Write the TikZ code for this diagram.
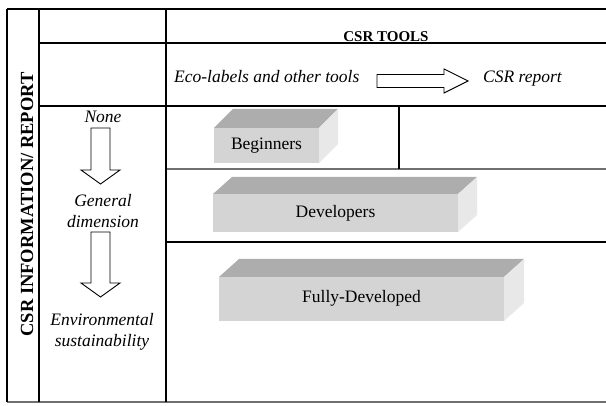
\documentclass[tikz,border=0pt]{standalone}
\usepackage{fontspec}
\setmainfont{Liberation Serif}
\usepackage{tikz}
\usetikzlibrary{shapes}
\definecolor{frontgray}{HTML}{D4D4D4}
\definecolor{topgray}{HTML}{ADADAD}
\definecolor{sidegray}{HTML}{E8E8E8}
\definecolor{linegray}{HTML}{707070}
\tikzstyle{txt}=[font=\fontsize{17.5}{20.5}\selectfont, inner sep=0mm, align=center]
\tikzstyle{itxt}=[font=\fontsize{17.5}{20.5}\selectfont\itshape, inner sep=0mm, align=center]
\tikzstyle{head}=[font=\fontsize{15}{18}\selectfont\bfseries, inner sep=0mm]
\tikzstyle{side}=[font=\fontsize{18.5}{22}\selectfont\bfseries, inner sep=0mm, rotate=90]
\tikzstyle{grid}=[draw=black, line width=1.2]
\tikzstyle{softgrid}=[draw=linegray, line width=1.2]
\tikzstyle{hollow}=[draw=black, fill=white, line width=0.9, line join=miter]
\tikzstyle{front}=[fill=frontgray, inner sep=0mm, outer sep=0mm, font=\fontsize{17.5}{20.5}\selectfont]
\tikzstyle{topface}=[fill=topgray]
\tikzstyle{sideface}=[fill=sidegray]
\tikzset{every picture/.style={
    x=1pt, y=-1pt
  }
}

\begin{document}
\begin{tikzpicture}
      \useasboundingbox (0,0) rectangle (606,406);
      % table
      \draw[grid] (7,9) -- (606,9);
      \draw[grid] (39,43) -- (606,43);
      \draw[grid] (39,106) -- (606,106);
      \draw[softgrid] (166,169) -- (606,169);
      \draw[grid] (166,242) -- (606,242);
      \draw[softgrid] (7,402) -- (606,402);
      \draw[grid] (7,9) -- (7,402);
      \draw[grid] (39,9) -- (39,402);
      \draw[grid] (166,9) -- (166,402);
      \draw[grid] (399,106) -- (399,169);

      \node[side] at (27,204.5) (info) {CSR INFORMATION/ REPORT};
      \node[head] at (386,37) (tools) {CSR TOOLS};

      \node[itxt, anchor=base west] at (174,83) (eco) {Eco-labels and other tools};
      \node[itxt, anchor=base west] at (483,83) (rep) {CSR report};
      \draw[hollow] (377,74.5) -- (444,74.5) -- (444,69) -- (468,81)
        -- (444,93) -- (444,87.5) -- (377,87.5) -- cycle;

      \node[itxt, anchor=base] at (103,123) (none) {None};
      \node[itxt] at (103,211) (gen) {General\\dimension};
      \node[itxt] at (102,332) (env) {Environmental\\sustainability};
      \draw[hollow] (91,128) -- (110,128) -- (110,170) -- (120,170)
        -- (100.5,184) -- (81,170) -- (91,170) -- cycle;
      \draw[hollow] (91,232) -- (110,232) -- (110,283) -- (120,283)
        -- (100.5,297) -- (81,283) -- (91,283) -- cycle;

      % boxes
      \node[front, minimum width=105, minimum height=35] at (266.5,145.5) (beg) {Beginners};
      \fill[topface] (beg.north west) -- ++(19,-19) -- ++(105,0) -- (beg.north east) -- cycle;
      \fill[sideface] (beg.north east) -- ++(19,-19) -- ++(0,35) -- (beg.south east) -- cycle;

      \node[front, minimum width=245, minimum height=38] at (335.5,213) (dev) {Developers};
      \fill[topface] (dev.north west) -- ++(19,-17) -- ++(245,0) -- (dev.north east) -- cycle;
      \fill[sideface] (dev.north east) -- ++(19,-17) -- ++(0,38) -- (dev.south east) -- cycle;

      \node[front, minimum width=285, minimum height=44] at (361.5,299) (full) {\raisebox{5pt}{Fully-Developed}};
      \fill[topface] (full.north west) -- ++(20,-18) -- ++(285,0) -- (full.north east) -- cycle;
      \fill[sideface] (full.north east) -- ++(20,-18) -- ++(0,44) -- (full.south east) -- cycle;
    \end{tikzpicture}
\end{document}
